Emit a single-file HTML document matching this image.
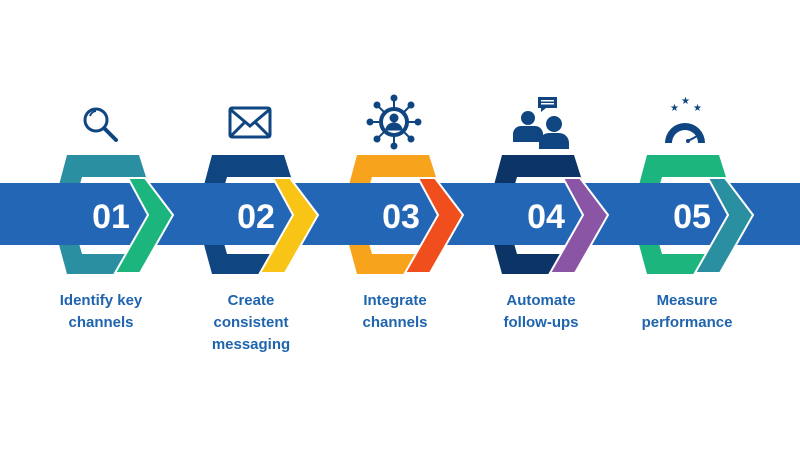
<!DOCTYPE html>
<html><head><meta charset="utf-8"><style>
html,body{margin:0;padding:0;background:#fff;}
svg{display:block;font-family:"Liberation Sans","DejaVu Sans",sans-serif;}
.n{font-size:34px;font-weight:bold;fill:#fff;text-anchor:middle;}
.l{font-size:15px;font-weight:bold;fill:#1f64ae;text-anchor:middle;}
</style></head><body>
<svg width="800" height="450" viewBox="0 0 800 450" xmlns="http://www.w3.org/2000/svg">
<rect width="800" height="450" fill="#fff"/>
<defs>
<g id="hex"><polygon points="67,155 139,155 158,215 139,274 67,274 51,215"/></g>
<g id="hole"><polygon points="82,177 128,177 142,215 128,254 82,254 71,215" fill="#fff"/></g>
<g id="chev"><polygon points="128,178 145,178 173,215 140,273 115,273 148,215" stroke="#fff" stroke-width="2"/></g>
</defs>
<g><use href="#hex" fill="#2a8fa0"/><use href="#hole"/></g>
<g transform="translate(145,0)"><use href="#hex" fill="#0f4682"/><use href="#hole"/></g>
<g transform="translate(290,0)"><use href="#hex" fill="#f7a41c"/><use href="#hole"/></g>
<g transform="translate(435,0)"><use href="#hex" fill="#0c3467"/><use href="#hole"/></g>
<g transform="translate(580,0)"><use href="#hex" fill="#1db57e"/><use href="#hole"/></g>
<rect x="0" y="183" width="800" height="62" fill="#2266b5"/>
<g><use href="#chev" fill="#1db57e"/></g>
<g transform="translate(145,0)"><use href="#chev" fill="#f8c416"/></g>
<g transform="translate(290,0)"><use href="#chev" fill="#f04e1d"/></g>
<g transform="translate(435,0)"><use href="#chev" fill="#8a55a4"/></g>
<g transform="translate(580,0)"><use href="#chev" fill="#2a8fa0"/></g>
<text class="n" x="111" y="228">01</text>
<text class="n" x="256" y="228">02</text>
<text class="n" x="401" y="228">03</text>
<text class="n" x="546" y="228">04</text>
<text class="n" x="692" y="228">05</text>
<text class="l" x="101" y="305">Identify key</text>
<text class="l" x="101" y="327">channels</text>
<text class="l" x="251" y="305">Create</text>
<text class="l" x="251" y="327">consistent</text>
<text class="l" x="251" y="349">messaging</text>
<text class="l" x="395" y="305">Integrate</text>
<text class="l" x="395" y="327">channels</text>
<text class="l" x="541" y="305">Automate</text>
<text class="l" x="541" y="327">follow-ups</text>
<text class="l" x="687" y="305">Measure</text>
<text class="l" x="687" y="327">performance</text>
<g stroke="#0f4682" fill="none" stroke-width="3">
<circle cx="96" cy="120" r="11"/>
<line x1="104" y1="128" x2="116" y2="140" stroke-width="4" stroke-linecap="round"/>
<path d="M90,116 a7,7 0 0 1 6,-5" stroke-width="2"/>
</g>
<g stroke="#0f4682" fill="none" stroke-width="3">
<rect x="230" y="108" width="40" height="29" rx="2"/>
<polyline points="231,110 250,126 269,110"/>
<line x1="231" y1="136" x2="245" y2="122"/><line x1="269" y1="136" x2="255" y2="122"/>
</g>
<g fill="#0f4682" stroke="#0f4682">
<circle cx="394" cy="122" r="13" fill="none" stroke-width="4"/>
<circle cx="394" cy="118" r="4"/>
<path d="M386,130 a8,7 0 0 1 16,0 z"/>
<g stroke-width="2">
<line x1="394" y1="98" x2="394" y2="109"/><line x1="394" y1="135" x2="394" y2="146"/>
<line x1="370" y1="122" x2="381" y2="122"/><line x1="407" y1="122" x2="418" y2="122"/>
<line x1="377" y1="105" x2="385" y2="113"/><line x1="411" y1="105" x2="403" y2="113"/>
<line x1="377" y1="139" x2="385" y2="131"/><line x1="411" y1="139" x2="403" y2="131"/>
</g>
<circle cx="394" cy="98" r="3"/><circle cx="394" cy="146" r="3"/>
<circle cx="370" cy="122" r="3"/><circle cx="418" cy="122" r="3"/>
<circle cx="377" cy="105" r="3"/><circle cx="411" cy="105" r="3"/>
<circle cx="377" cy="139" r="3"/><circle cx="411" cy="139" r="3"/>
</g>
<g fill="#0f4682">
<rect x="538" y="97" width="19" height="11"/><polygon points="541,108 546,108 541,112"/>
<circle cx="528" cy="118" r="7"/>
<path d="M513,142 v-8 a8,8 0 0 1 8,-8 h14 a8,8 0 0 1 8,8 v8 z"/>
<circle cx="554" cy="124" r="8"/>
<path d="M539,149 v-6 a10,10 0 0 1 10,-10 h10 a10,10 0 0 1 10,10 v6 z"/>
</g>
<g fill="#fff"><rect x="541" y="100" width="13" height="1.5"/><rect x="541" y="103" width="13" height="1.5"/></g>
<g fill="#0f4682">
<path d="M665,143 a20,20 0 0 1 40,0 h-7 a13,13 0 0 0 -26,0 z"/>
<text x="670" y="111" font-size="10" fill="#0f4682">★</text>
<text x="681" y="104" font-size="10" fill="#0f4682">★</text>
<text x="693" y="111" font-size="10" fill="#0f4682">★</text>
<circle cx="688" cy="141" r="2"/>
<line x1="688" y1="141" x2="701" y2="134" stroke="#0f4682" stroke-width="2"/>
</g>
</svg>
</body></html>
